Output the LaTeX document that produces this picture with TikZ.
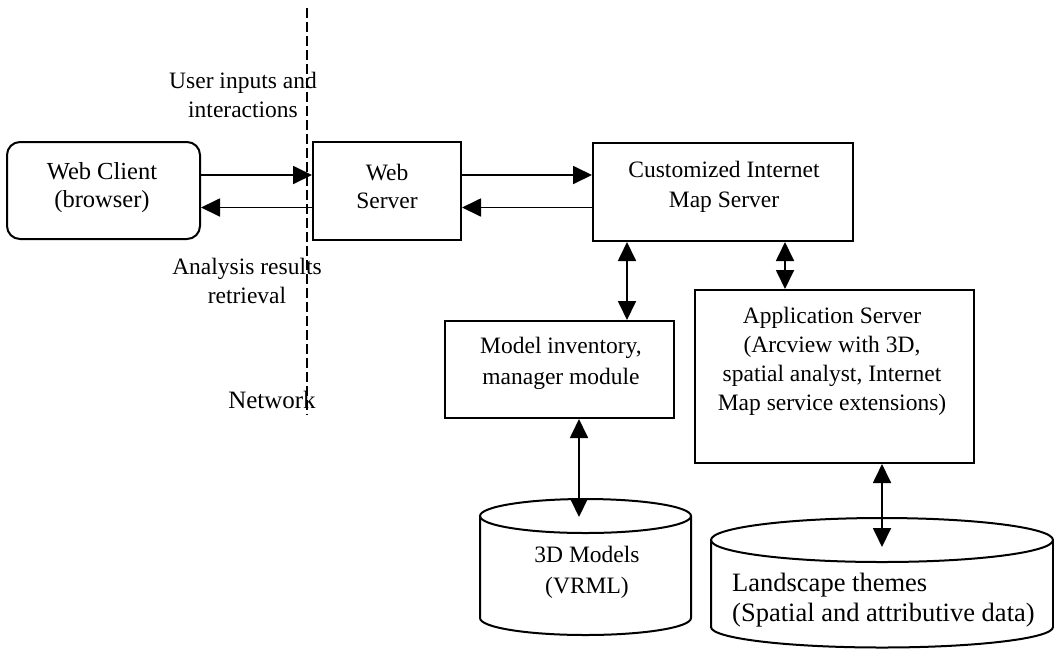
\documentclass[tikz,border=0pt]{standalone}
\usepackage{fontspec}
\setmainfont{Liberation Serif}
\usetikzlibrary{arrows.meta,calc}

\begin{document}
\begin{tikzpicture}[x=1pt,y=1pt,
  blk/.style={draw, line width=2pt, inner sep=0pt},
  txt/.style={align=center, inner sep=0pt, font=\fontsize{23.5}{29}\selectfont},
  cyl/.style={draw, line width=2pt},
  link/.style={line width=1.8pt, -{Triangle[length=19pt,width=18pt]}},
  duplex/.style={line width=1.8pt, {Triangle[length=19pt,width=18pt]}-{Triangle[length=19pt,width=18pt]}},
  netline/.style={line width=1.6pt, dash pattern=on 10pt off 4pt}]

% canvas
\fill[white] (0,0) rectangle (1054,-649);
\useasboundingbox (0,0) rectangle (1054,-649);

% boxes
\node[blk, rounded corners=13pt, minimum width=193pt, minimum height=97pt] (client) at (103.5,-190.5) {};
\node[txt, font=\fontsize{24.5}{28}\selectfont] (clienttxt) at (102,-188) {Web Client\\(browser)};

\node[blk, minimum width=148pt, minimum height=98pt] (websrv) at (387,-191) {};
\node[txt, font=\fontsize{23.5}{28}\selectfont] (websrvtxt) at (387,-186) {Web\\Server};

\node[blk, minimum width=260pt, minimum height=98pt] (cims) at (723,-192) {};
\node[txt, font=\fontsize{23.5}{30}\selectfont] (cimstxt) at (724,-187) {Customized Internet\\Map Server};

\node[blk, minimum width=229pt, minimum height=97pt] (mi) at (559.5,-369.5) {};
\node[txt, font=\fontsize{23.5}{31}\selectfont] (mitxt) at (561,-363.5) {Model inventory,\\manager module};

\node[blk, minimum width=279pt, minimum height=173pt] (app) at (834.5,-376.5) {};
\node[txt] (apptxt) at (832,-361.5) {Application Server\\(Arcview with 3D,\\spatial analyst, Internet\\Map service extensions)};

% data stores
\draw[cyl] (480,-516) -- (480,-618) arc[start angle=180, end angle=360, x radius=105.5pt, y radius=17pt] -- (691,-516);
\draw[cyl] (585.5,-516) ellipse[x radius=105.5pt, y radius=17pt];
\node[txt, font=\fontsize{23.5}{31}\selectfont] (models) at (587,-572.5) {3D Models\\(VRML)};
\coordinate (modelsin) at (579,-517);

\draw[cyl] (711,-540) -- (711,-627) arc[start angle=180, end angle=360, x radius=171pt, y radius=20.5pt] -- (1053,-540);
\draw[cyl] (882,-540) ellipse[x radius=171pt, y radius=22pt];
\node[txt, align=left, anchor=west, font=\fontsize{26.5}{30}\selectfont] (themes) at (732,-600) {Landscape themes\\(Spatial and attributive data)};
\coordinate (themesin) at (882,-547);

% side labels
\node[txt] (lblin) at (243,-94.5) {User inputs and\\interactions};
\node[txt] (lblout) at (247,-281) {Analysis results\\retrieval};
\node[txt, font=\fontsize{25}{30}\selectfont] (lblnet) at (272,-400) {Network};

% network boundary
\coordinate (nettop) at (307,-8);
\coordinate (netbot) at (307,-415);
\draw[netline] (nettop) -- (netbot);

% request / response rows
\coordinate (req) at (0,-175);
\coordinate (resp) at (0,-207.5);
\draw[link] (client.east |- req) -- (websrv.west |- req);
\draw[link] (websrv.west |- resp) -- (client.east |- resp);
\draw[link] (websrv.east |- req) -- (cims.west |- req);
\draw[link] (cims.west |- resp) -- (websrv.east |- resp);

% vertical links
\coordinate (colmi) at (627,0);
\coordinate (colapp) at (785,0);
\draw[duplex] (cims.south -| colmi) -- (mi.north -| colmi);
\draw[duplex] (cims.south -| colapp) -- (app.north -| colapp);
\draw[duplex] (mi.south -| modelsin) -- (modelsin);
\draw[duplex] (app.south -| themesin) -- (themesin);
\end{tikzpicture}
\end{document}
